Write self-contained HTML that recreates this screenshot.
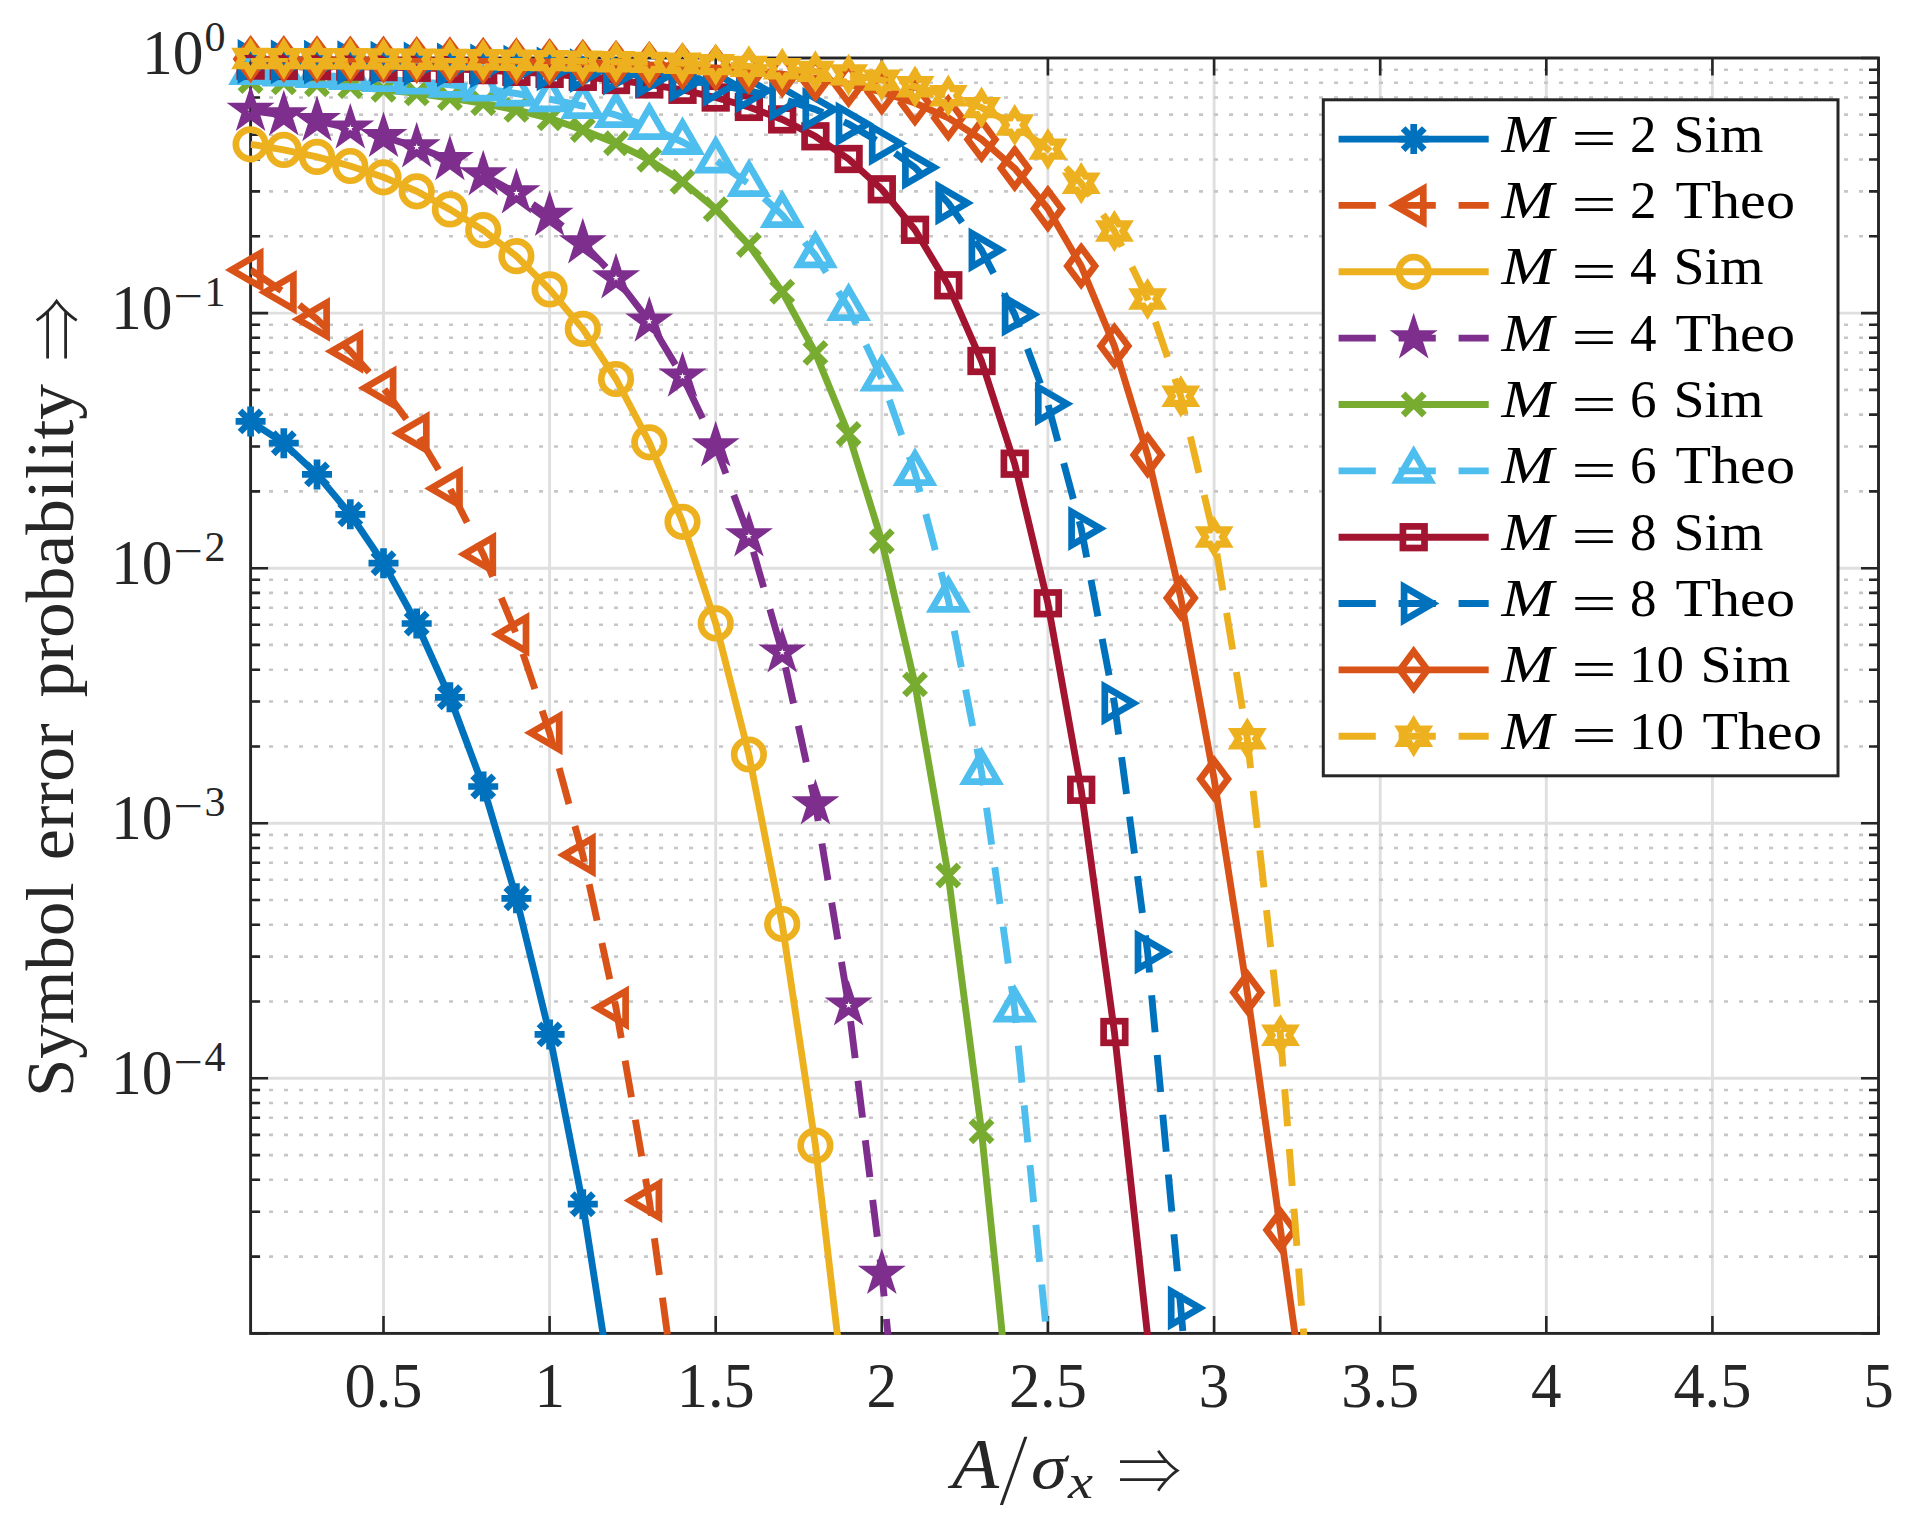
<!DOCTYPE html>
<html><head><meta charset="utf-8"><title>Symbol error probability</title><style>html,body{margin:0;padding:0;background:#fff}svg{display:block}</style></head><body>
<svg width="1925" height="1525" viewBox="0 0 1925 1525">
<rect width="1925" height="1525" fill="#fff"/>
<defs><clipPath id="ax"><rect x="250.6" y="58.0" width="1627.9" height="1276.9"/></clipPath></defs>
<g stroke="#dfdfdf" stroke-width="2.9" fill="none">
<path d="M383.5,58.0V1333.4"/>
<path d="M549.6,58.0V1333.4"/>
<path d="M715.7,58.0V1333.4"/>
<path d="M881.8,58.0V1333.4"/>
<path d="M1047.9,58.0V1333.4"/>
<path d="M1214.1,58.0V1333.4"/>
<path d="M1380.2,58.0V1333.4"/>
<path d="M1546.3,58.0V1333.4"/>
<path d="M1712.4,58.0V1333.4"/>
<path d="M250.6,313.1H1878.5"/>
<path d="M250.6,568.2H1878.5"/>
<path d="M250.6,823.2H1878.5"/>
<path d="M250.6,1078.3H1878.5"/>
</g>
<g stroke="#c6c6c6" stroke-width="2.6" fill="none" stroke-dasharray="4 11">
<path d="M254.05,236.3H1878.5"/>
<path d="M254.05,191.4H1878.5"/>
<path d="M254.05,159.5H1878.5"/>
<path d="M254.05,134.8H1878.5"/>
<path d="M254.05,114.6H1878.5"/>
<path d="M254.05,97.5H1878.5"/>
<path d="M254.05,82.7H1878.5"/>
<path d="M254.05,69.7H1878.5"/>
<path d="M254.05,491.4H1878.5"/>
<path d="M254.05,446.5H1878.5"/>
<path d="M254.05,414.6H1878.5"/>
<path d="M254.05,389.9H1878.5"/>
<path d="M254.05,369.7H1878.5"/>
<path d="M254.05,352.6H1878.5"/>
<path d="M254.05,337.8H1878.5"/>
<path d="M254.05,324.8H1878.5"/>
<path d="M254.05,746.5H1878.5"/>
<path d="M254.05,701.5H1878.5"/>
<path d="M254.05,669.7H1878.5"/>
<path d="M254.05,644.9H1878.5"/>
<path d="M254.05,624.7H1878.5"/>
<path d="M254.05,607.7H1878.5"/>
<path d="M254.05,592.9H1878.5"/>
<path d="M254.05,579.8H1878.5"/>
<path d="M254.05,1001.5H1878.5"/>
<path d="M254.05,956.6H1878.5"/>
<path d="M254.05,924.7H1878.5"/>
<path d="M254.05,900.0H1878.5"/>
<path d="M254.05,879.8H1878.5"/>
<path d="M254.05,862.8H1878.5"/>
<path d="M254.05,848.0H1878.5"/>
<path d="M254.05,834.9H1878.5"/>
<path d="M254.05,1256.6H1878.5"/>
<path d="M254.05,1211.7H1878.5"/>
<path d="M254.05,1179.8H1878.5"/>
<path d="M254.05,1155.1H1878.5"/>
<path d="M254.05,1134.9H1878.5"/>
<path d="M254.05,1117.8H1878.5"/>
<path d="M254.05,1103.0H1878.5"/>
<path d="M254.05,1090.0H1878.5"/>
</g>
<rect x="250.6" y="58.0" width="1627.9" height="1275.4" stroke="#262626" stroke-width="2.9" fill="none"/>
<g stroke="#262626" stroke-width="2.6" fill="none">
<path d="M383.5,1333.4v-17.5M383.5,58.0v17.5"/>
<path d="M549.6,1333.4v-17.5M549.6,58.0v17.5"/>
<path d="M715.7,1333.4v-17.5M715.7,58.0v17.5"/>
<path d="M881.8,1333.4v-17.5M881.8,58.0v17.5"/>
<path d="M1047.9,1333.4v-17.5M1047.9,58.0v17.5"/>
<path d="M1214.1,1333.4v-17.5M1214.1,58.0v17.5"/>
<path d="M1380.2,1333.4v-17.5M1380.2,58.0v17.5"/>
<path d="M1546.3,1333.4v-17.5M1546.3,58.0v17.5"/>
<path d="M1712.4,1333.4v-17.5M1712.4,58.0v17.5"/>
<path d="M1878.5,1333.4v-17.5M1878.5,58.0v17.5"/>
<path d="M250.6,58.0h17.5M1878.5,58.0h-17.5"/>
<path d="M250.6,236.3h9.5M1878.5,236.3h-9.5"/>
<path d="M250.6,191.4h9.5M1878.5,191.4h-9.5"/>
<path d="M250.6,159.5h9.5M1878.5,159.5h-9.5"/>
<path d="M250.6,134.8h9.5M1878.5,134.8h-9.5"/>
<path d="M250.6,114.6h9.5M1878.5,114.6h-9.5"/>
<path d="M250.6,97.5h9.5M1878.5,97.5h-9.5"/>
<path d="M250.6,82.7h9.5M1878.5,82.7h-9.5"/>
<path d="M250.6,69.7h9.5M1878.5,69.7h-9.5"/>
<path d="M250.6,313.1h17.5M1878.5,313.1h-17.5"/>
<path d="M250.6,491.4h9.5M1878.5,491.4h-9.5"/>
<path d="M250.6,446.5h9.5M1878.5,446.5h-9.5"/>
<path d="M250.6,414.6h9.5M1878.5,414.6h-9.5"/>
<path d="M250.6,389.9h9.5M1878.5,389.9h-9.5"/>
<path d="M250.6,369.7h9.5M1878.5,369.7h-9.5"/>
<path d="M250.6,352.6h9.5M1878.5,352.6h-9.5"/>
<path d="M250.6,337.8h9.5M1878.5,337.8h-9.5"/>
<path d="M250.6,324.8h9.5M1878.5,324.8h-9.5"/>
<path d="M250.6,568.2h17.5M1878.5,568.2h-17.5"/>
<path d="M250.6,746.5h9.5M1878.5,746.5h-9.5"/>
<path d="M250.6,701.5h9.5M1878.5,701.5h-9.5"/>
<path d="M250.6,669.7h9.5M1878.5,669.7h-9.5"/>
<path d="M250.6,644.9h9.5M1878.5,644.9h-9.5"/>
<path d="M250.6,624.7h9.5M1878.5,624.7h-9.5"/>
<path d="M250.6,607.7h9.5M1878.5,607.7h-9.5"/>
<path d="M250.6,592.9h9.5M1878.5,592.9h-9.5"/>
<path d="M250.6,579.8h9.5M1878.5,579.8h-9.5"/>
<path d="M250.6,823.2h17.5M1878.5,823.2h-17.5"/>
<path d="M250.6,1001.5h9.5M1878.5,1001.5h-9.5"/>
<path d="M250.6,956.6h9.5M1878.5,956.6h-9.5"/>
<path d="M250.6,924.7h9.5M1878.5,924.7h-9.5"/>
<path d="M250.6,900.0h9.5M1878.5,900.0h-9.5"/>
<path d="M250.6,879.8h9.5M1878.5,879.8h-9.5"/>
<path d="M250.6,862.8h9.5M1878.5,862.8h-9.5"/>
<path d="M250.6,848.0h9.5M1878.5,848.0h-9.5"/>
<path d="M250.6,834.9h9.5M1878.5,834.9h-9.5"/>
<path d="M250.6,1078.3h17.5M1878.5,1078.3h-17.5"/>
<path d="M250.6,1256.6h9.5M1878.5,1256.6h-9.5"/>
<path d="M250.6,1211.7h9.5M1878.5,1211.7h-9.5"/>
<path d="M250.6,1179.8h9.5M1878.5,1179.8h-9.5"/>
<path d="M250.6,1155.1h9.5M1878.5,1155.1h-9.5"/>
<path d="M250.6,1134.9h9.5M1878.5,1134.9h-9.5"/>
<path d="M250.6,1117.8h9.5M1878.5,1117.8h-9.5"/>
<path d="M250.6,1103.0h9.5M1878.5,1103.0h-9.5"/>
<path d="M250.6,1090.0h9.5M1878.5,1090.0h-9.5"/>
<path d="M250.6,1333.4h17.5M1878.5,1333.4h-17.5"/>
</g>
<path clip-path="url(#ax)" d="M250.6,421.4L283.8,443.2L317.0,474.4L350.3,514.3L383.5,563.2L416.7,623.5L449.9,697.3L483.2,786.5L516.4,898.3L549.6,1034.4L582.8,1204.2L616.0,1417.0" stroke="#0072BD" stroke-width="6.9" fill="none" stroke-linejoin="round"/>
<path transform="translate(250.6,421.4)" stroke="#0072BD" stroke-width="6.7" fill="none" d="M-15,0H15M0,-15V15M-10.6,-10.6L10.6,10.6M-10.6,10.6L10.6,-10.6"/>
<path transform="translate(283.8,443.2)" stroke="#0072BD" stroke-width="6.7" fill="none" d="M-15,0H15M0,-15V15M-10.6,-10.6L10.6,10.6M-10.6,10.6L10.6,-10.6"/>
<path transform="translate(317.0,474.4)" stroke="#0072BD" stroke-width="6.7" fill="none" d="M-15,0H15M0,-15V15M-10.6,-10.6L10.6,10.6M-10.6,10.6L10.6,-10.6"/>
<path transform="translate(350.3,514.3)" stroke="#0072BD" stroke-width="6.7" fill="none" d="M-15,0H15M0,-15V15M-10.6,-10.6L10.6,10.6M-10.6,10.6L10.6,-10.6"/>
<path transform="translate(383.5,563.2)" stroke="#0072BD" stroke-width="6.7" fill="none" d="M-15,0H15M0,-15V15M-10.6,-10.6L10.6,10.6M-10.6,10.6L10.6,-10.6"/>
<path transform="translate(416.7,623.5)" stroke="#0072BD" stroke-width="6.7" fill="none" d="M-15,0H15M0,-15V15M-10.6,-10.6L10.6,10.6M-10.6,10.6L10.6,-10.6"/>
<path transform="translate(449.9,697.3)" stroke="#0072BD" stroke-width="6.7" fill="none" d="M-15,0H15M0,-15V15M-10.6,-10.6L10.6,10.6M-10.6,10.6L10.6,-10.6"/>
<path transform="translate(483.2,786.5)" stroke="#0072BD" stroke-width="6.7" fill="none" d="M-15,0H15M0,-15V15M-10.6,-10.6L10.6,10.6M-10.6,10.6L10.6,-10.6"/>
<path transform="translate(516.4,898.3)" stroke="#0072BD" stroke-width="6.7" fill="none" d="M-15,0H15M0,-15V15M-10.6,-10.6L10.6,10.6M-10.6,10.6L10.6,-10.6"/>
<path transform="translate(549.6,1034.4)" stroke="#0072BD" stroke-width="6.7" fill="none" d="M-15,0H15M0,-15V15M-10.6,-10.6L10.6,10.6M-10.6,10.6L10.6,-10.6"/>
<path transform="translate(582.8,1204.2)" stroke="#0072BD" stroke-width="6.7" fill="none" d="M-15,0H15M0,-15V15M-10.6,-10.6L10.6,10.6M-10.6,10.6L10.6,-10.6"/>
<path clip-path="url(#ax)" d="M250.6,269.9L283.8,292.3L317.0,319.3L350.3,351.3L383.5,388.0L416.7,433.3L449.9,488.5L483.2,554.2L516.4,634.3L549.6,732.8L582.8,855.0L616.0,1007.8L649.3,1200.5L682.5,1446.0" stroke="#D95319" stroke-width="6.9" fill="none" stroke-linejoin="round" stroke-dasharray="37.2 22.8"/>
<path transform="translate(250.6,269.9)" stroke="#D95319" stroke-width="6.7" fill="none" d="M-19,0L9.6,-16.6L9.6,16.6Z"/>
<path transform="translate(283.8,292.3)" stroke="#D95319" stroke-width="6.7" fill="none" d="M-19,0L9.6,-16.6L9.6,16.6Z"/>
<path transform="translate(317.0,319.3)" stroke="#D95319" stroke-width="6.7" fill="none" d="M-19,0L9.6,-16.6L9.6,16.6Z"/>
<path transform="translate(350.3,351.3)" stroke="#D95319" stroke-width="6.7" fill="none" d="M-19,0L9.6,-16.6L9.6,16.6Z"/>
<path transform="translate(383.5,388.0)" stroke="#D95319" stroke-width="6.7" fill="none" d="M-19,0L9.6,-16.6L9.6,16.6Z"/>
<path transform="translate(416.7,433.3)" stroke="#D95319" stroke-width="6.7" fill="none" d="M-19,0L9.6,-16.6L9.6,16.6Z"/>
<path transform="translate(449.9,488.5)" stroke="#D95319" stroke-width="6.7" fill="none" d="M-19,0L9.6,-16.6L9.6,16.6Z"/>
<path transform="translate(483.2,554.2)" stroke="#D95319" stroke-width="6.7" fill="none" d="M-19,0L9.6,-16.6L9.6,16.6Z"/>
<path transform="translate(516.4,634.3)" stroke="#D95319" stroke-width="6.7" fill="none" d="M-19,0L9.6,-16.6L9.6,16.6Z"/>
<path transform="translate(549.6,732.8)" stroke="#D95319" stroke-width="6.7" fill="none" d="M-19,0L9.6,-16.6L9.6,16.6Z"/>
<path transform="translate(582.8,855.0)" stroke="#D95319" stroke-width="6.7" fill="none" d="M-19,0L9.6,-16.6L9.6,16.6Z"/>
<path transform="translate(616.0,1007.8)" stroke="#D95319" stroke-width="6.7" fill="none" d="M-19,0L9.6,-16.6L9.6,16.6Z"/>
<path transform="translate(649.3,1200.5)" stroke="#D95319" stroke-width="6.7" fill="none" d="M-19,0L9.6,-16.6L9.6,16.6Z"/>
<path clip-path="url(#ax)" d="M250.6,144.3L283.8,149.9L317.0,156.9L350.3,166.0L383.5,177.3L416.7,191.3L449.9,209.4L483.2,230.1L516.4,256.1L549.6,289.4L582.8,328.9L616.0,379.0L649.3,442.3L682.5,521.8L715.7,623.4L748.9,754.5L782.2,924.0L815.4,1145.6L848.6,1431.0" stroke="#EDB120" stroke-width="6.9" fill="none" stroke-linejoin="round"/>
<circle transform="translate(250.6,144.3)" stroke="#EDB120" stroke-width="6.7" fill="none" r="14.75"/>
<circle transform="translate(283.8,149.9)" stroke="#EDB120" stroke-width="6.7" fill="none" r="14.75"/>
<circle transform="translate(317.0,156.9)" stroke="#EDB120" stroke-width="6.7" fill="none" r="14.75"/>
<circle transform="translate(350.3,166.0)" stroke="#EDB120" stroke-width="6.7" fill="none" r="14.75"/>
<circle transform="translate(383.5,177.3)" stroke="#EDB120" stroke-width="6.7" fill="none" r="14.75"/>
<circle transform="translate(416.7,191.3)" stroke="#EDB120" stroke-width="6.7" fill="none" r="14.75"/>
<circle transform="translate(449.9,209.4)" stroke="#EDB120" stroke-width="6.7" fill="none" r="14.75"/>
<circle transform="translate(483.2,230.1)" stroke="#EDB120" stroke-width="6.7" fill="none" r="14.75"/>
<circle transform="translate(516.4,256.1)" stroke="#EDB120" stroke-width="6.7" fill="none" r="14.75"/>
<circle transform="translate(549.6,289.4)" stroke="#EDB120" stroke-width="6.7" fill="none" r="14.75"/>
<circle transform="translate(582.8,328.9)" stroke="#EDB120" stroke-width="6.7" fill="none" r="14.75"/>
<circle transform="translate(616.0,379.0)" stroke="#EDB120" stroke-width="6.7" fill="none" r="14.75"/>
<circle transform="translate(649.3,442.3)" stroke="#EDB120" stroke-width="6.7" fill="none" r="14.75"/>
<circle transform="translate(682.5,521.8)" stroke="#EDB120" stroke-width="6.7" fill="none" r="14.75"/>
<circle transform="translate(715.7,623.4)" stroke="#EDB120" stroke-width="6.7" fill="none" r="14.75"/>
<circle transform="translate(748.9,754.5)" stroke="#EDB120" stroke-width="6.7" fill="none" r="14.75"/>
<circle transform="translate(782.2,924.0)" stroke="#EDB120" stroke-width="6.7" fill="none" r="14.75"/>
<circle transform="translate(815.4,1145.6)" stroke="#EDB120" stroke-width="6.7" fill="none" r="14.75"/>
<path clip-path="url(#ax)" d="M250.6,110.5L283.8,115.0L317.0,120.8L350.3,128.2L383.5,136.7L416.7,147.1L449.9,159.9L483.2,175.0L516.4,193.1L549.6,215.6L582.8,243.0L616.0,278.0L649.3,321.3L682.5,376.4L715.7,446.0L748.9,536.0L782.2,652.2L815.4,804.0L848.6,1005.2L881.8,1273.5L915.0,1603.0" stroke="#7E2F8E" stroke-width="6.9" fill="none" stroke-linejoin="round" stroke-dasharray="37.2 22.8"/>
<path transform="translate(250.6,110.5)" stroke="#7E2F8E" stroke-width="6.7" fill="none" d="M0.00,-14.40L3.23,-4.45L13.70,-4.45L5.23,1.70L8.46,11.65L0.00,5.50L-8.46,11.65L-5.23,1.70L-13.70,-4.45L-3.23,-4.45Z"/>
<path transform="translate(283.8,115.0)" stroke="#7E2F8E" stroke-width="6.7" fill="none" d="M0.00,-14.40L3.23,-4.45L13.70,-4.45L5.23,1.70L8.46,11.65L0.00,5.50L-8.46,11.65L-5.23,1.70L-13.70,-4.45L-3.23,-4.45Z"/>
<path transform="translate(317.0,120.8)" stroke="#7E2F8E" stroke-width="6.7" fill="none" d="M0.00,-14.40L3.23,-4.45L13.70,-4.45L5.23,1.70L8.46,11.65L0.00,5.50L-8.46,11.65L-5.23,1.70L-13.70,-4.45L-3.23,-4.45Z"/>
<path transform="translate(350.3,128.2)" stroke="#7E2F8E" stroke-width="6.7" fill="none" d="M0.00,-14.40L3.23,-4.45L13.70,-4.45L5.23,1.70L8.46,11.65L0.00,5.50L-8.46,11.65L-5.23,1.70L-13.70,-4.45L-3.23,-4.45Z"/>
<path transform="translate(383.5,136.7)" stroke="#7E2F8E" stroke-width="6.7" fill="none" d="M0.00,-14.40L3.23,-4.45L13.70,-4.45L5.23,1.70L8.46,11.65L0.00,5.50L-8.46,11.65L-5.23,1.70L-13.70,-4.45L-3.23,-4.45Z"/>
<path transform="translate(416.7,147.1)" stroke="#7E2F8E" stroke-width="6.7" fill="none" d="M0.00,-14.40L3.23,-4.45L13.70,-4.45L5.23,1.70L8.46,11.65L0.00,5.50L-8.46,11.65L-5.23,1.70L-13.70,-4.45L-3.23,-4.45Z"/>
<path transform="translate(449.9,159.9)" stroke="#7E2F8E" stroke-width="6.7" fill="none" d="M0.00,-14.40L3.23,-4.45L13.70,-4.45L5.23,1.70L8.46,11.65L0.00,5.50L-8.46,11.65L-5.23,1.70L-13.70,-4.45L-3.23,-4.45Z"/>
<path transform="translate(483.2,175.0)" stroke="#7E2F8E" stroke-width="6.7" fill="none" d="M0.00,-14.40L3.23,-4.45L13.70,-4.45L5.23,1.70L8.46,11.65L0.00,5.50L-8.46,11.65L-5.23,1.70L-13.70,-4.45L-3.23,-4.45Z"/>
<path transform="translate(516.4,193.1)" stroke="#7E2F8E" stroke-width="6.7" fill="none" d="M0.00,-14.40L3.23,-4.45L13.70,-4.45L5.23,1.70L8.46,11.65L0.00,5.50L-8.46,11.65L-5.23,1.70L-13.70,-4.45L-3.23,-4.45Z"/>
<path transform="translate(549.6,215.6)" stroke="#7E2F8E" stroke-width="6.7" fill="none" d="M0.00,-14.40L3.23,-4.45L13.70,-4.45L5.23,1.70L8.46,11.65L0.00,5.50L-8.46,11.65L-5.23,1.70L-13.70,-4.45L-3.23,-4.45Z"/>
<path transform="translate(582.8,243.0)" stroke="#7E2F8E" stroke-width="6.7" fill="none" d="M0.00,-14.40L3.23,-4.45L13.70,-4.45L5.23,1.70L8.46,11.65L0.00,5.50L-8.46,11.65L-5.23,1.70L-13.70,-4.45L-3.23,-4.45Z"/>
<path transform="translate(616.0,278.0)" stroke="#7E2F8E" stroke-width="6.7" fill="none" d="M0.00,-14.40L3.23,-4.45L13.70,-4.45L5.23,1.70L8.46,11.65L0.00,5.50L-8.46,11.65L-5.23,1.70L-13.70,-4.45L-3.23,-4.45Z"/>
<path transform="translate(649.3,321.3)" stroke="#7E2F8E" stroke-width="6.7" fill="none" d="M0.00,-14.40L3.23,-4.45L13.70,-4.45L5.23,1.70L8.46,11.65L0.00,5.50L-8.46,11.65L-5.23,1.70L-13.70,-4.45L-3.23,-4.45Z"/>
<path transform="translate(682.5,376.4)" stroke="#7E2F8E" stroke-width="6.7" fill="none" d="M0.00,-14.40L3.23,-4.45L13.70,-4.45L5.23,1.70L8.46,11.65L0.00,5.50L-8.46,11.65L-5.23,1.70L-13.70,-4.45L-3.23,-4.45Z"/>
<path transform="translate(715.7,446.0)" stroke="#7E2F8E" stroke-width="6.7" fill="none" d="M0.00,-14.40L3.23,-4.45L13.70,-4.45L5.23,1.70L8.46,11.65L0.00,5.50L-8.46,11.65L-5.23,1.70L-13.70,-4.45L-3.23,-4.45Z"/>
<path transform="translate(748.9,536.0)" stroke="#7E2F8E" stroke-width="6.7" fill="none" d="M0.00,-14.40L3.23,-4.45L13.70,-4.45L5.23,1.70L8.46,11.65L0.00,5.50L-8.46,11.65L-5.23,1.70L-13.70,-4.45L-3.23,-4.45Z"/>
<path transform="translate(782.2,652.2)" stroke="#7E2F8E" stroke-width="6.7" fill="none" d="M0.00,-14.40L3.23,-4.45L13.70,-4.45L5.23,1.70L8.46,11.65L0.00,5.50L-8.46,11.65L-5.23,1.70L-13.70,-4.45L-3.23,-4.45Z"/>
<path transform="translate(815.4,804.0)" stroke="#7E2F8E" stroke-width="6.7" fill="none" d="M0.00,-14.40L3.23,-4.45L13.70,-4.45L5.23,1.70L8.46,11.65L0.00,5.50L-8.46,11.65L-5.23,1.70L-13.70,-4.45L-3.23,-4.45Z"/>
<path transform="translate(848.6,1005.2)" stroke="#7E2F8E" stroke-width="6.7" fill="none" d="M0.00,-14.40L3.23,-4.45L13.70,-4.45L5.23,1.70L8.46,11.65L0.00,5.50L-8.46,11.65L-5.23,1.70L-13.70,-4.45L-3.23,-4.45Z"/>
<path transform="translate(881.8,1273.5)" stroke="#7E2F8E" stroke-width="6.7" fill="none" d="M0.00,-14.40L3.23,-4.45L13.70,-4.45L5.23,1.70L8.46,11.65L0.00,5.50L-8.46,11.65L-5.23,1.70L-13.70,-4.45L-3.23,-4.45Z"/>
<path clip-path="url(#ax)" d="M250.6,81.0L283.8,82.4L317.0,84.2L350.3,86.3L383.5,89.8L416.7,93.4L449.9,98.1L483.2,103.3L516.4,109.9L549.6,118.3L582.8,130.0L616.0,143.3L649.3,159.8L682.5,181.7L715.7,209.2L748.9,245.0L782.2,291.7L815.4,352.9L848.6,434.0L881.8,541.2L915.0,684.4L948.3,875.5L981.5,1131.2L1014.7,1456.0" stroke="#77AC30" stroke-width="6.9" fill="none" stroke-linejoin="round"/>
<path transform="translate(250.6,81.0)" stroke="#77AC30" stroke-width="6.7" fill="none" d="M-10.6,-10.6L10.6,10.6M-10.6,10.6L10.6,-10.6"/>
<path transform="translate(283.8,82.4)" stroke="#77AC30" stroke-width="6.7" fill="none" d="M-10.6,-10.6L10.6,10.6M-10.6,10.6L10.6,-10.6"/>
<path transform="translate(317.0,84.2)" stroke="#77AC30" stroke-width="6.7" fill="none" d="M-10.6,-10.6L10.6,10.6M-10.6,10.6L10.6,-10.6"/>
<path transform="translate(350.3,86.3)" stroke="#77AC30" stroke-width="6.7" fill="none" d="M-10.6,-10.6L10.6,10.6M-10.6,10.6L10.6,-10.6"/>
<path transform="translate(383.5,89.8)" stroke="#77AC30" stroke-width="6.7" fill="none" d="M-10.6,-10.6L10.6,10.6M-10.6,10.6L10.6,-10.6"/>
<path transform="translate(416.7,93.4)" stroke="#77AC30" stroke-width="6.7" fill="none" d="M-10.6,-10.6L10.6,10.6M-10.6,10.6L10.6,-10.6"/>
<path transform="translate(449.9,98.1)" stroke="#77AC30" stroke-width="6.7" fill="none" d="M-10.6,-10.6L10.6,10.6M-10.6,10.6L10.6,-10.6"/>
<path transform="translate(483.2,103.3)" stroke="#77AC30" stroke-width="6.7" fill="none" d="M-10.6,-10.6L10.6,10.6M-10.6,10.6L10.6,-10.6"/>
<path transform="translate(516.4,109.9)" stroke="#77AC30" stroke-width="6.7" fill="none" d="M-10.6,-10.6L10.6,10.6M-10.6,10.6L10.6,-10.6"/>
<path transform="translate(549.6,118.3)" stroke="#77AC30" stroke-width="6.7" fill="none" d="M-10.6,-10.6L10.6,10.6M-10.6,10.6L10.6,-10.6"/>
<path transform="translate(582.8,130.0)" stroke="#77AC30" stroke-width="6.7" fill="none" d="M-10.6,-10.6L10.6,10.6M-10.6,10.6L10.6,-10.6"/>
<path transform="translate(616.0,143.3)" stroke="#77AC30" stroke-width="6.7" fill="none" d="M-10.6,-10.6L10.6,10.6M-10.6,10.6L10.6,-10.6"/>
<path transform="translate(649.3,159.8)" stroke="#77AC30" stroke-width="6.7" fill="none" d="M-10.6,-10.6L10.6,10.6M-10.6,10.6L10.6,-10.6"/>
<path transform="translate(682.5,181.7)" stroke="#77AC30" stroke-width="6.7" fill="none" d="M-10.6,-10.6L10.6,10.6M-10.6,10.6L10.6,-10.6"/>
<path transform="translate(715.7,209.2)" stroke="#77AC30" stroke-width="6.7" fill="none" d="M-10.6,-10.6L10.6,10.6M-10.6,10.6L10.6,-10.6"/>
<path transform="translate(748.9,245.0)" stroke="#77AC30" stroke-width="6.7" fill="none" d="M-10.6,-10.6L10.6,10.6M-10.6,10.6L10.6,-10.6"/>
<path transform="translate(782.2,291.7)" stroke="#77AC30" stroke-width="6.7" fill="none" d="M-10.6,-10.6L10.6,10.6M-10.6,10.6L10.6,-10.6"/>
<path transform="translate(815.4,352.9)" stroke="#77AC30" stroke-width="6.7" fill="none" d="M-10.6,-10.6L10.6,10.6M-10.6,10.6L10.6,-10.6"/>
<path transform="translate(848.6,434.0)" stroke="#77AC30" stroke-width="6.7" fill="none" d="M-10.6,-10.6L10.6,10.6M-10.6,10.6L10.6,-10.6"/>
<path transform="translate(881.8,541.2)" stroke="#77AC30" stroke-width="6.7" fill="none" d="M-10.6,-10.6L10.6,10.6M-10.6,10.6L10.6,-10.6"/>
<path transform="translate(915.0,684.4)" stroke="#77AC30" stroke-width="6.7" fill="none" d="M-10.6,-10.6L10.6,10.6M-10.6,10.6L10.6,-10.6"/>
<path transform="translate(948.3,875.5)" stroke="#77AC30" stroke-width="6.7" fill="none" d="M-10.6,-10.6L10.6,10.6M-10.6,10.6L10.6,-10.6"/>
<path transform="translate(981.5,1131.2)" stroke="#77AC30" stroke-width="6.7" fill="none" d="M-10.6,-10.6L10.6,10.6M-10.6,10.6L10.6,-10.6"/>
<path clip-path="url(#ax)" d="M250.6,72.0L283.8,73.5L317.0,75.1L350.3,77.0L383.5,79.1L416.7,81.5L449.9,84.7L483.2,88.6L516.4,93.5L549.6,99.2L582.8,106.0L616.0,115.0L649.3,127.0L682.5,142.0L715.7,160.5L748.9,184.0L782.2,215.0L815.4,255.2L848.6,308.0L881.8,378.6L915.0,473.0L948.3,599.8L981.5,772.0L1014.7,1009.6L1047.9,1347.0" stroke="#4DBEEE" stroke-width="6.9" fill="none" stroke-linejoin="round" stroke-dasharray="37.2 22.8"/>
<path transform="translate(250.6,72.0)" stroke="#4DBEEE" stroke-width="6.7" fill="none" d="M0,-19L16.6,9.6L-16.6,9.6Z"/>
<path transform="translate(283.8,73.5)" stroke="#4DBEEE" stroke-width="6.7" fill="none" d="M0,-19L16.6,9.6L-16.6,9.6Z"/>
<path transform="translate(317.0,75.1)" stroke="#4DBEEE" stroke-width="6.7" fill="none" d="M0,-19L16.6,9.6L-16.6,9.6Z"/>
<path transform="translate(350.3,77.0)" stroke="#4DBEEE" stroke-width="6.7" fill="none" d="M0,-19L16.6,9.6L-16.6,9.6Z"/>
<path transform="translate(383.5,79.1)" stroke="#4DBEEE" stroke-width="6.7" fill="none" d="M0,-19L16.6,9.6L-16.6,9.6Z"/>
<path transform="translate(416.7,81.5)" stroke="#4DBEEE" stroke-width="6.7" fill="none" d="M0,-19L16.6,9.6L-16.6,9.6Z"/>
<path transform="translate(449.9,84.7)" stroke="#4DBEEE" stroke-width="6.7" fill="none" d="M0,-19L16.6,9.6L-16.6,9.6Z"/>
<path transform="translate(483.2,88.6)" stroke="#4DBEEE" stroke-width="6.7" fill="none" d="M0,-19L16.6,9.6L-16.6,9.6Z"/>
<path transform="translate(516.4,93.5)" stroke="#4DBEEE" stroke-width="6.7" fill="none" d="M0,-19L16.6,9.6L-16.6,9.6Z"/>
<path transform="translate(549.6,99.2)" stroke="#4DBEEE" stroke-width="6.7" fill="none" d="M0,-19L16.6,9.6L-16.6,9.6Z"/>
<path transform="translate(582.8,106.0)" stroke="#4DBEEE" stroke-width="6.7" fill="none" d="M0,-19L16.6,9.6L-16.6,9.6Z"/>
<path transform="translate(616.0,115.0)" stroke="#4DBEEE" stroke-width="6.7" fill="none" d="M0,-19L16.6,9.6L-16.6,9.6Z"/>
<path transform="translate(649.3,127.0)" stroke="#4DBEEE" stroke-width="6.7" fill="none" d="M0,-19L16.6,9.6L-16.6,9.6Z"/>
<path transform="translate(682.5,142.0)" stroke="#4DBEEE" stroke-width="6.7" fill="none" d="M0,-19L16.6,9.6L-16.6,9.6Z"/>
<path transform="translate(715.7,160.5)" stroke="#4DBEEE" stroke-width="6.7" fill="none" d="M0,-19L16.6,9.6L-16.6,9.6Z"/>
<path transform="translate(748.9,184.0)" stroke="#4DBEEE" stroke-width="6.7" fill="none" d="M0,-19L16.6,9.6L-16.6,9.6Z"/>
<path transform="translate(782.2,215.0)" stroke="#4DBEEE" stroke-width="6.7" fill="none" d="M0,-19L16.6,9.6L-16.6,9.6Z"/>
<path transform="translate(815.4,255.2)" stroke="#4DBEEE" stroke-width="6.7" fill="none" d="M0,-19L16.6,9.6L-16.6,9.6Z"/>
<path transform="translate(848.6,308.0)" stroke="#4DBEEE" stroke-width="6.7" fill="none" d="M0,-19L16.6,9.6L-16.6,9.6Z"/>
<path transform="translate(881.8,378.6)" stroke="#4DBEEE" stroke-width="6.7" fill="none" d="M0,-19L16.6,9.6L-16.6,9.6Z"/>
<path transform="translate(915.0,473.0)" stroke="#4DBEEE" stroke-width="6.7" fill="none" d="M0,-19L16.6,9.6L-16.6,9.6Z"/>
<path transform="translate(948.3,599.8)" stroke="#4DBEEE" stroke-width="6.7" fill="none" d="M0,-19L16.6,9.6L-16.6,9.6Z"/>
<path transform="translate(981.5,772.0)" stroke="#4DBEEE" stroke-width="6.7" fill="none" d="M0,-19L16.6,9.6L-16.6,9.6Z"/>
<path transform="translate(1014.7,1009.6)" stroke="#4DBEEE" stroke-width="6.7" fill="none" d="M0,-19L16.6,9.6L-16.6,9.6Z"/>
<path clip-path="url(#ax)" d="M250.6,65.6L283.8,65.9L317.0,66.2L350.3,66.6L383.5,67.1L416.7,67.8L449.9,68.8L483.2,70.1L516.4,71.8L549.6,73.9L582.8,76.8L616.0,80.0L649.3,84.4L682.5,89.8L715.7,97.5L748.9,106.9L782.2,119.4L815.4,136.3L848.6,159.0L881.8,189.3L915.0,229.8L948.3,285.3L981.5,361.0L1014.7,463.7L1047.9,603.3L1081.2,789.8L1114.4,1032.0L1147.6,1336.0" stroke="#A2142F" stroke-width="6.9" fill="none" stroke-linejoin="round"/>
<rect transform="translate(250.6,65.6)" stroke="#A2142F" stroke-width="6.7" fill="none" x="-10.8" y="-10.8" width="21.6" height="21.6"/>
<rect transform="translate(283.8,65.9)" stroke="#A2142F" stroke-width="6.7" fill="none" x="-10.8" y="-10.8" width="21.6" height="21.6"/>
<rect transform="translate(317.0,66.2)" stroke="#A2142F" stroke-width="6.7" fill="none" x="-10.8" y="-10.8" width="21.6" height="21.6"/>
<rect transform="translate(350.3,66.6)" stroke="#A2142F" stroke-width="6.7" fill="none" x="-10.8" y="-10.8" width="21.6" height="21.6"/>
<rect transform="translate(383.5,67.1)" stroke="#A2142F" stroke-width="6.7" fill="none" x="-10.8" y="-10.8" width="21.6" height="21.6"/>
<rect transform="translate(416.7,67.8)" stroke="#A2142F" stroke-width="6.7" fill="none" x="-10.8" y="-10.8" width="21.6" height="21.6"/>
<rect transform="translate(449.9,68.8)" stroke="#A2142F" stroke-width="6.7" fill="none" x="-10.8" y="-10.8" width="21.6" height="21.6"/>
<rect transform="translate(483.2,70.1)" stroke="#A2142F" stroke-width="6.7" fill="none" x="-10.8" y="-10.8" width="21.6" height="21.6"/>
<rect transform="translate(516.4,71.8)" stroke="#A2142F" stroke-width="6.7" fill="none" x="-10.8" y="-10.8" width="21.6" height="21.6"/>
<rect transform="translate(549.6,73.9)" stroke="#A2142F" stroke-width="6.7" fill="none" x="-10.8" y="-10.8" width="21.6" height="21.6"/>
<rect transform="translate(582.8,76.8)" stroke="#A2142F" stroke-width="6.7" fill="none" x="-10.8" y="-10.8" width="21.6" height="21.6"/>
<rect transform="translate(616.0,80.0)" stroke="#A2142F" stroke-width="6.7" fill="none" x="-10.8" y="-10.8" width="21.6" height="21.6"/>
<rect transform="translate(649.3,84.4)" stroke="#A2142F" stroke-width="6.7" fill="none" x="-10.8" y="-10.8" width="21.6" height="21.6"/>
<rect transform="translate(682.5,89.8)" stroke="#A2142F" stroke-width="6.7" fill="none" x="-10.8" y="-10.8" width="21.6" height="21.6"/>
<rect transform="translate(715.7,97.5)" stroke="#A2142F" stroke-width="6.7" fill="none" x="-10.8" y="-10.8" width="21.6" height="21.6"/>
<rect transform="translate(748.9,106.9)" stroke="#A2142F" stroke-width="6.7" fill="none" x="-10.8" y="-10.8" width="21.6" height="21.6"/>
<rect transform="translate(782.2,119.4)" stroke="#A2142F" stroke-width="6.7" fill="none" x="-10.8" y="-10.8" width="21.6" height="21.6"/>
<rect transform="translate(815.4,136.3)" stroke="#A2142F" stroke-width="6.7" fill="none" x="-10.8" y="-10.8" width="21.6" height="21.6"/>
<rect transform="translate(848.6,159.0)" stroke="#A2142F" stroke-width="6.7" fill="none" x="-10.8" y="-10.8" width="21.6" height="21.6"/>
<rect transform="translate(881.8,189.3)" stroke="#A2142F" stroke-width="6.7" fill="none" x="-10.8" y="-10.8" width="21.6" height="21.6"/>
<rect transform="translate(915.0,229.8)" stroke="#A2142F" stroke-width="6.7" fill="none" x="-10.8" y="-10.8" width="21.6" height="21.6"/>
<rect transform="translate(948.3,285.3)" stroke="#A2142F" stroke-width="6.7" fill="none" x="-10.8" y="-10.8" width="21.6" height="21.6"/>
<rect transform="translate(981.5,361.0)" stroke="#A2142F" stroke-width="6.7" fill="none" x="-10.8" y="-10.8" width="21.6" height="21.6"/>
<rect transform="translate(1014.7,463.7)" stroke="#A2142F" stroke-width="6.7" fill="none" x="-10.8" y="-10.8" width="21.6" height="21.6"/>
<rect transform="translate(1047.9,603.3)" stroke="#A2142F" stroke-width="6.7" fill="none" x="-10.8" y="-10.8" width="21.6" height="21.6"/>
<rect transform="translate(1081.2,789.8)" stroke="#A2142F" stroke-width="6.7" fill="none" x="-10.8" y="-10.8" width="21.6" height="21.6"/>
<rect transform="translate(1114.4,1032.0)" stroke="#A2142F" stroke-width="6.7" fill="none" x="-10.8" y="-10.8" width="21.6" height="21.6"/>
<path clip-path="url(#ax)" d="M250.6,61.5L283.8,61.8L317.0,62.2L350.3,62.7L383.5,63.2L416.7,63.9L449.9,64.8L483.2,65.9L516.4,67.2L549.6,68.8L582.8,70.6L616.0,73.0L649.3,76.2L682.5,80.0L715.7,84.5L748.9,90.7L782.2,99.0L815.4,109.4L848.6,124.0L881.8,143.6L915.0,167.5L948.3,203.0L981.5,250.0L1014.7,314.4L1047.9,403.8L1081.2,528.5L1114.4,703.2L1147.6,952.0L1180.8,1308.0L1214.1,1690.0" stroke="#0072BD" stroke-width="6.9" fill="none" stroke-linejoin="round" stroke-dasharray="37.2 22.8"/>
<path transform="translate(250.6,61.5)" stroke="#0072BD" stroke-width="6.7" fill="none" d="M19,0L-9.6,-16.6L-9.6,16.6Z"/>
<path transform="translate(283.8,61.8)" stroke="#0072BD" stroke-width="6.7" fill="none" d="M19,0L-9.6,-16.6L-9.6,16.6Z"/>
<path transform="translate(317.0,62.2)" stroke="#0072BD" stroke-width="6.7" fill="none" d="M19,0L-9.6,-16.6L-9.6,16.6Z"/>
<path transform="translate(350.3,62.7)" stroke="#0072BD" stroke-width="6.7" fill="none" d="M19,0L-9.6,-16.6L-9.6,16.6Z"/>
<path transform="translate(383.5,63.2)" stroke="#0072BD" stroke-width="6.7" fill="none" d="M19,0L-9.6,-16.6L-9.6,16.6Z"/>
<path transform="translate(416.7,63.9)" stroke="#0072BD" stroke-width="6.7" fill="none" d="M19,0L-9.6,-16.6L-9.6,16.6Z"/>
<path transform="translate(449.9,64.8)" stroke="#0072BD" stroke-width="6.7" fill="none" d="M19,0L-9.6,-16.6L-9.6,16.6Z"/>
<path transform="translate(483.2,65.9)" stroke="#0072BD" stroke-width="6.7" fill="none" d="M19,0L-9.6,-16.6L-9.6,16.6Z"/>
<path transform="translate(516.4,67.2)" stroke="#0072BD" stroke-width="6.7" fill="none" d="M19,0L-9.6,-16.6L-9.6,16.6Z"/>
<path transform="translate(549.6,68.8)" stroke="#0072BD" stroke-width="6.7" fill="none" d="M19,0L-9.6,-16.6L-9.6,16.6Z"/>
<path transform="translate(582.8,70.6)" stroke="#0072BD" stroke-width="6.7" fill="none" d="M19,0L-9.6,-16.6L-9.6,16.6Z"/>
<path transform="translate(616.0,73.0)" stroke="#0072BD" stroke-width="6.7" fill="none" d="M19,0L-9.6,-16.6L-9.6,16.6Z"/>
<path transform="translate(649.3,76.2)" stroke="#0072BD" stroke-width="6.7" fill="none" d="M19,0L-9.6,-16.6L-9.6,16.6Z"/>
<path transform="translate(682.5,80.0)" stroke="#0072BD" stroke-width="6.7" fill="none" d="M19,0L-9.6,-16.6L-9.6,16.6Z"/>
<path transform="translate(715.7,84.5)" stroke="#0072BD" stroke-width="6.7" fill="none" d="M19,0L-9.6,-16.6L-9.6,16.6Z"/>
<path transform="translate(748.9,90.7)" stroke="#0072BD" stroke-width="6.7" fill="none" d="M19,0L-9.6,-16.6L-9.6,16.6Z"/>
<path transform="translate(782.2,99.0)" stroke="#0072BD" stroke-width="6.7" fill="none" d="M19,0L-9.6,-16.6L-9.6,16.6Z"/>
<path transform="translate(815.4,109.4)" stroke="#0072BD" stroke-width="6.7" fill="none" d="M19,0L-9.6,-16.6L-9.6,16.6Z"/>
<path transform="translate(848.6,124.0)" stroke="#0072BD" stroke-width="6.7" fill="none" d="M19,0L-9.6,-16.6L-9.6,16.6Z"/>
<path transform="translate(881.8,143.6)" stroke="#0072BD" stroke-width="6.7" fill="none" d="M19,0L-9.6,-16.6L-9.6,16.6Z"/>
<path transform="translate(915.0,167.5)" stroke="#0072BD" stroke-width="6.7" fill="none" d="M19,0L-9.6,-16.6L-9.6,16.6Z"/>
<path transform="translate(948.3,203.0)" stroke="#0072BD" stroke-width="6.7" fill="none" d="M19,0L-9.6,-16.6L-9.6,16.6Z"/>
<path transform="translate(981.5,250.0)" stroke="#0072BD" stroke-width="6.7" fill="none" d="M19,0L-9.6,-16.6L-9.6,16.6Z"/>
<path transform="translate(1014.7,314.4)" stroke="#0072BD" stroke-width="6.7" fill="none" d="M19,0L-9.6,-16.6L-9.6,16.6Z"/>
<path transform="translate(1047.9,403.8)" stroke="#0072BD" stroke-width="6.7" fill="none" d="M19,0L-9.6,-16.6L-9.6,16.6Z"/>
<path transform="translate(1081.2,528.5)" stroke="#0072BD" stroke-width="6.7" fill="none" d="M19,0L-9.6,-16.6L-9.6,16.6Z"/>
<path transform="translate(1114.4,703.2)" stroke="#0072BD" stroke-width="6.7" fill="none" d="M19,0L-9.6,-16.6L-9.6,16.6Z"/>
<path transform="translate(1147.6,952.0)" stroke="#0072BD" stroke-width="6.7" fill="none" d="M19,0L-9.6,-16.6L-9.6,16.6Z"/>
<path transform="translate(1180.8,1308.0)" stroke="#0072BD" stroke-width="6.7" fill="none" d="M19,0L-9.6,-16.6L-9.6,16.6Z"/>
<path clip-path="url(#ax)" d="M250.6,59.1L283.8,59.2L317.0,59.3L350.3,59.5L383.5,59.7L416.7,60.0L449.9,60.4L483.2,60.9L516.4,61.4L549.6,62.0L582.8,62.8L616.0,63.8L649.3,64.9L682.5,66.4L715.7,68.0L748.9,70.8L782.2,74.3L815.4,78.4L848.6,84.2L881.8,91.9L915.0,103.0L948.3,117.9L981.5,139.4L1014.7,168.3L1047.9,208.8L1081.2,266.0L1114.4,346.0L1147.6,455.0L1180.8,598.0L1214.1,778.9L1247.3,992.5L1280.5,1230.0L1313.7,1469.0" stroke="#D95319" stroke-width="6.9" fill="none" stroke-linejoin="round"/>
<path transform="translate(250.6,59.1)" stroke="#D95319" stroke-width="6.7" fill="none" d="M0,-18.5L13.8,0L0,18.5L-13.8,0Z"/>
<path transform="translate(283.8,59.2)" stroke="#D95319" stroke-width="6.7" fill="none" d="M0,-18.5L13.8,0L0,18.5L-13.8,0Z"/>
<path transform="translate(317.0,59.3)" stroke="#D95319" stroke-width="6.7" fill="none" d="M0,-18.5L13.8,0L0,18.5L-13.8,0Z"/>
<path transform="translate(350.3,59.5)" stroke="#D95319" stroke-width="6.7" fill="none" d="M0,-18.5L13.8,0L0,18.5L-13.8,0Z"/>
<path transform="translate(383.5,59.7)" stroke="#D95319" stroke-width="6.7" fill="none" d="M0,-18.5L13.8,0L0,18.5L-13.8,0Z"/>
<path transform="translate(416.7,60.0)" stroke="#D95319" stroke-width="6.7" fill="none" d="M0,-18.5L13.8,0L0,18.5L-13.8,0Z"/>
<path transform="translate(449.9,60.4)" stroke="#D95319" stroke-width="6.7" fill="none" d="M0,-18.5L13.8,0L0,18.5L-13.8,0Z"/>
<path transform="translate(483.2,60.9)" stroke="#D95319" stroke-width="6.7" fill="none" d="M0,-18.5L13.8,0L0,18.5L-13.8,0Z"/>
<path transform="translate(516.4,61.4)" stroke="#D95319" stroke-width="6.7" fill="none" d="M0,-18.5L13.8,0L0,18.5L-13.8,0Z"/>
<path transform="translate(549.6,62.0)" stroke="#D95319" stroke-width="6.7" fill="none" d="M0,-18.5L13.8,0L0,18.5L-13.8,0Z"/>
<path transform="translate(582.8,62.8)" stroke="#D95319" stroke-width="6.7" fill="none" d="M0,-18.5L13.8,0L0,18.5L-13.8,0Z"/>
<path transform="translate(616.0,63.8)" stroke="#D95319" stroke-width="6.7" fill="none" d="M0,-18.5L13.8,0L0,18.5L-13.8,0Z"/>
<path transform="translate(649.3,64.9)" stroke="#D95319" stroke-width="6.7" fill="none" d="M0,-18.5L13.8,0L0,18.5L-13.8,0Z"/>
<path transform="translate(682.5,66.4)" stroke="#D95319" stroke-width="6.7" fill="none" d="M0,-18.5L13.8,0L0,18.5L-13.8,0Z"/>
<path transform="translate(715.7,68.0)" stroke="#D95319" stroke-width="6.7" fill="none" d="M0,-18.5L13.8,0L0,18.5L-13.8,0Z"/>
<path transform="translate(748.9,70.8)" stroke="#D95319" stroke-width="6.7" fill="none" d="M0,-18.5L13.8,0L0,18.5L-13.8,0Z"/>
<path transform="translate(782.2,74.3)" stroke="#D95319" stroke-width="6.7" fill="none" d="M0,-18.5L13.8,0L0,18.5L-13.8,0Z"/>
<path transform="translate(815.4,78.4)" stroke="#D95319" stroke-width="6.7" fill="none" d="M0,-18.5L13.8,0L0,18.5L-13.8,0Z"/>
<path transform="translate(848.6,84.2)" stroke="#D95319" stroke-width="6.7" fill="none" d="M0,-18.5L13.8,0L0,18.5L-13.8,0Z"/>
<path transform="translate(881.8,91.9)" stroke="#D95319" stroke-width="6.7" fill="none" d="M0,-18.5L13.8,0L0,18.5L-13.8,0Z"/>
<path transform="translate(915.0,103.0)" stroke="#D95319" stroke-width="6.7" fill="none" d="M0,-18.5L13.8,0L0,18.5L-13.8,0Z"/>
<path transform="translate(948.3,117.9)" stroke="#D95319" stroke-width="6.7" fill="none" d="M0,-18.5L13.8,0L0,18.5L-13.8,0Z"/>
<path transform="translate(981.5,139.4)" stroke="#D95319" stroke-width="6.7" fill="none" d="M0,-18.5L13.8,0L0,18.5L-13.8,0Z"/>
<path transform="translate(1014.7,168.3)" stroke="#D95319" stroke-width="6.7" fill="none" d="M0,-18.5L13.8,0L0,18.5L-13.8,0Z"/>
<path transform="translate(1047.9,208.8)" stroke="#D95319" stroke-width="6.7" fill="none" d="M0,-18.5L13.8,0L0,18.5L-13.8,0Z"/>
<path transform="translate(1081.2,266.0)" stroke="#D95319" stroke-width="6.7" fill="none" d="M0,-18.5L13.8,0L0,18.5L-13.8,0Z"/>
<path transform="translate(1114.4,346.0)" stroke="#D95319" stroke-width="6.7" fill="none" d="M0,-18.5L13.8,0L0,18.5L-13.8,0Z"/>
<path transform="translate(1147.6,455.0)" stroke="#D95319" stroke-width="6.7" fill="none" d="M0,-18.5L13.8,0L0,18.5L-13.8,0Z"/>
<path transform="translate(1180.8,598.0)" stroke="#D95319" stroke-width="6.7" fill="none" d="M0,-18.5L13.8,0L0,18.5L-13.8,0Z"/>
<path transform="translate(1214.1,778.9)" stroke="#D95319" stroke-width="6.7" fill="none" d="M0,-18.5L13.8,0L0,18.5L-13.8,0Z"/>
<path transform="translate(1247.3,992.5)" stroke="#D95319" stroke-width="6.7" fill="none" d="M0,-18.5L13.8,0L0,18.5L-13.8,0Z"/>
<path transform="translate(1280.5,1230.0)" stroke="#D95319" stroke-width="6.7" fill="none" d="M0,-18.5L13.8,0L0,18.5L-13.8,0Z"/>
<path clip-path="url(#ax)" d="M250.6,58.5L283.8,58.6L317.0,58.7L350.3,58.8L383.5,59.0L416.7,59.2L449.9,59.5L483.2,59.8L516.4,60.2L549.6,60.6L582.8,61.1L616.0,61.7L649.3,62.4L682.5,63.3L715.7,64.6L748.9,66.4L782.2,68.8L815.4,71.4L848.6,74.9L881.8,80.1L915.0,86.7L948.3,95.7L981.5,107.6L1014.7,125.0L1047.9,149.1L1081.2,183.2L1114.4,231.0L1147.6,299.0L1180.8,396.3L1214.1,537.0L1247.3,738.7L1280.5,1035.3L1313.7,1463.0" stroke="#EDB120" stroke-width="6.9" fill="none" stroke-linejoin="round" stroke-dasharray="37.2 22.8"/>
<path transform="translate(250.6,58.5)" stroke="#EDB120" stroke-width="7.3" fill="none" d="M0.00,-14.10L4.31,-7.05L12.94,-7.05L8.63,0.00L12.94,7.05L4.31,7.05L0.00,14.10L-4.31,7.05L-12.94,7.05L-8.63,0.00L-12.94,-7.05L-4.31,-7.05Z"/>
<path transform="translate(283.8,58.6)" stroke="#EDB120" stroke-width="7.3" fill="none" d="M0.00,-14.10L4.31,-7.05L12.94,-7.05L8.63,0.00L12.94,7.05L4.31,7.05L0.00,14.10L-4.31,7.05L-12.94,7.05L-8.63,0.00L-12.94,-7.05L-4.31,-7.05Z"/>
<path transform="translate(317.0,58.7)" stroke="#EDB120" stroke-width="7.3" fill="none" d="M0.00,-14.10L4.31,-7.05L12.94,-7.05L8.63,0.00L12.94,7.05L4.31,7.05L0.00,14.10L-4.31,7.05L-12.94,7.05L-8.63,0.00L-12.94,-7.05L-4.31,-7.05Z"/>
<path transform="translate(350.3,58.8)" stroke="#EDB120" stroke-width="7.3" fill="none" d="M0.00,-14.10L4.31,-7.05L12.94,-7.05L8.63,0.00L12.94,7.05L4.31,7.05L0.00,14.10L-4.31,7.05L-12.94,7.05L-8.63,0.00L-12.94,-7.05L-4.31,-7.05Z"/>
<path transform="translate(383.5,59.0)" stroke="#EDB120" stroke-width="7.3" fill="none" d="M0.00,-14.10L4.31,-7.05L12.94,-7.05L8.63,0.00L12.94,7.05L4.31,7.05L0.00,14.10L-4.31,7.05L-12.94,7.05L-8.63,0.00L-12.94,-7.05L-4.31,-7.05Z"/>
<path transform="translate(416.7,59.2)" stroke="#EDB120" stroke-width="7.3" fill="none" d="M0.00,-14.10L4.31,-7.05L12.94,-7.05L8.63,0.00L12.94,7.05L4.31,7.05L0.00,14.10L-4.31,7.05L-12.94,7.05L-8.63,0.00L-12.94,-7.05L-4.31,-7.05Z"/>
<path transform="translate(449.9,59.5)" stroke="#EDB120" stroke-width="7.3" fill="none" d="M0.00,-14.10L4.31,-7.05L12.94,-7.05L8.63,0.00L12.94,7.05L4.31,7.05L0.00,14.10L-4.31,7.05L-12.94,7.05L-8.63,0.00L-12.94,-7.05L-4.31,-7.05Z"/>
<path transform="translate(483.2,59.8)" stroke="#EDB120" stroke-width="7.3" fill="none" d="M0.00,-14.10L4.31,-7.05L12.94,-7.05L8.63,0.00L12.94,7.05L4.31,7.05L0.00,14.10L-4.31,7.05L-12.94,7.05L-8.63,0.00L-12.94,-7.05L-4.31,-7.05Z"/>
<path transform="translate(516.4,60.2)" stroke="#EDB120" stroke-width="7.3" fill="none" d="M0.00,-14.10L4.31,-7.05L12.94,-7.05L8.63,0.00L12.94,7.05L4.31,7.05L0.00,14.10L-4.31,7.05L-12.94,7.05L-8.63,0.00L-12.94,-7.05L-4.31,-7.05Z"/>
<path transform="translate(549.6,60.6)" stroke="#EDB120" stroke-width="7.3" fill="none" d="M0.00,-14.10L4.31,-7.05L12.94,-7.05L8.63,0.00L12.94,7.05L4.31,7.05L0.00,14.10L-4.31,7.05L-12.94,7.05L-8.63,0.00L-12.94,-7.05L-4.31,-7.05Z"/>
<path transform="translate(582.8,61.1)" stroke="#EDB120" stroke-width="7.3" fill="none" d="M0.00,-14.10L4.31,-7.05L12.94,-7.05L8.63,0.00L12.94,7.05L4.31,7.05L0.00,14.10L-4.31,7.05L-12.94,7.05L-8.63,0.00L-12.94,-7.05L-4.31,-7.05Z"/>
<path transform="translate(616.0,61.7)" stroke="#EDB120" stroke-width="7.3" fill="none" d="M0.00,-14.10L4.31,-7.05L12.94,-7.05L8.63,0.00L12.94,7.05L4.31,7.05L0.00,14.10L-4.31,7.05L-12.94,7.05L-8.63,0.00L-12.94,-7.05L-4.31,-7.05Z"/>
<path transform="translate(649.3,62.4)" stroke="#EDB120" stroke-width="7.3" fill="none" d="M0.00,-14.10L4.31,-7.05L12.94,-7.05L8.63,0.00L12.94,7.05L4.31,7.05L0.00,14.10L-4.31,7.05L-12.94,7.05L-8.63,0.00L-12.94,-7.05L-4.31,-7.05Z"/>
<path transform="translate(682.5,63.3)" stroke="#EDB120" stroke-width="7.3" fill="none" d="M0.00,-14.10L4.31,-7.05L12.94,-7.05L8.63,0.00L12.94,7.05L4.31,7.05L0.00,14.10L-4.31,7.05L-12.94,7.05L-8.63,0.00L-12.94,-7.05L-4.31,-7.05Z"/>
<path transform="translate(715.7,64.6)" stroke="#EDB120" stroke-width="7.3" fill="none" d="M0.00,-14.10L4.31,-7.05L12.94,-7.05L8.63,0.00L12.94,7.05L4.31,7.05L0.00,14.10L-4.31,7.05L-12.94,7.05L-8.63,0.00L-12.94,-7.05L-4.31,-7.05Z"/>
<path transform="translate(748.9,66.4)" stroke="#EDB120" stroke-width="7.3" fill="none" d="M0.00,-14.10L4.31,-7.05L12.94,-7.05L8.63,0.00L12.94,7.05L4.31,7.05L0.00,14.10L-4.31,7.05L-12.94,7.05L-8.63,0.00L-12.94,-7.05L-4.31,-7.05Z"/>
<path transform="translate(782.2,68.8)" stroke="#EDB120" stroke-width="7.3" fill="none" d="M0.00,-14.10L4.31,-7.05L12.94,-7.05L8.63,0.00L12.94,7.05L4.31,7.05L0.00,14.10L-4.31,7.05L-12.94,7.05L-8.63,0.00L-12.94,-7.05L-4.31,-7.05Z"/>
<path transform="translate(815.4,71.4)" stroke="#EDB120" stroke-width="7.3" fill="none" d="M0.00,-14.10L4.31,-7.05L12.94,-7.05L8.63,0.00L12.94,7.05L4.31,7.05L0.00,14.10L-4.31,7.05L-12.94,7.05L-8.63,0.00L-12.94,-7.05L-4.31,-7.05Z"/>
<path transform="translate(848.6,74.9)" stroke="#EDB120" stroke-width="7.3" fill="none" d="M0.00,-14.10L4.31,-7.05L12.94,-7.05L8.63,0.00L12.94,7.05L4.31,7.05L0.00,14.10L-4.31,7.05L-12.94,7.05L-8.63,0.00L-12.94,-7.05L-4.31,-7.05Z"/>
<path transform="translate(881.8,80.1)" stroke="#EDB120" stroke-width="7.3" fill="none" d="M0.00,-14.10L4.31,-7.05L12.94,-7.05L8.63,0.00L12.94,7.05L4.31,7.05L0.00,14.10L-4.31,7.05L-12.94,7.05L-8.63,0.00L-12.94,-7.05L-4.31,-7.05Z"/>
<path transform="translate(915.0,86.7)" stroke="#EDB120" stroke-width="7.3" fill="none" d="M0.00,-14.10L4.31,-7.05L12.94,-7.05L8.63,0.00L12.94,7.05L4.31,7.05L0.00,14.10L-4.31,7.05L-12.94,7.05L-8.63,0.00L-12.94,-7.05L-4.31,-7.05Z"/>
<path transform="translate(948.3,95.7)" stroke="#EDB120" stroke-width="7.3" fill="none" d="M0.00,-14.10L4.31,-7.05L12.94,-7.05L8.63,0.00L12.94,7.05L4.31,7.05L0.00,14.10L-4.31,7.05L-12.94,7.05L-8.63,0.00L-12.94,-7.05L-4.31,-7.05Z"/>
<path transform="translate(981.5,107.6)" stroke="#EDB120" stroke-width="7.3" fill="none" d="M0.00,-14.10L4.31,-7.05L12.94,-7.05L8.63,0.00L12.94,7.05L4.31,7.05L0.00,14.10L-4.31,7.05L-12.94,7.05L-8.63,0.00L-12.94,-7.05L-4.31,-7.05Z"/>
<path transform="translate(1014.7,125.0)" stroke="#EDB120" stroke-width="7.3" fill="none" d="M0.00,-14.10L4.31,-7.05L12.94,-7.05L8.63,0.00L12.94,7.05L4.31,7.05L0.00,14.10L-4.31,7.05L-12.94,7.05L-8.63,0.00L-12.94,-7.05L-4.31,-7.05Z"/>
<path transform="translate(1047.9,149.1)" stroke="#EDB120" stroke-width="7.3" fill="none" d="M0.00,-14.10L4.31,-7.05L12.94,-7.05L8.63,0.00L12.94,7.05L4.31,7.05L0.00,14.10L-4.31,7.05L-12.94,7.05L-8.63,0.00L-12.94,-7.05L-4.31,-7.05Z"/>
<path transform="translate(1081.2,183.2)" stroke="#EDB120" stroke-width="7.3" fill="none" d="M0.00,-14.10L4.31,-7.05L12.94,-7.05L8.63,0.00L12.94,7.05L4.31,7.05L0.00,14.10L-4.31,7.05L-12.94,7.05L-8.63,0.00L-12.94,-7.05L-4.31,-7.05Z"/>
<path transform="translate(1114.4,231.0)" stroke="#EDB120" stroke-width="7.3" fill="none" d="M0.00,-14.10L4.31,-7.05L12.94,-7.05L8.63,0.00L12.94,7.05L4.31,7.05L0.00,14.10L-4.31,7.05L-12.94,7.05L-8.63,0.00L-12.94,-7.05L-4.31,-7.05Z"/>
<path transform="translate(1147.6,299.0)" stroke="#EDB120" stroke-width="7.3" fill="none" d="M0.00,-14.10L4.31,-7.05L12.94,-7.05L8.63,0.00L12.94,7.05L4.31,7.05L0.00,14.10L-4.31,7.05L-12.94,7.05L-8.63,0.00L-12.94,-7.05L-4.31,-7.05Z"/>
<path transform="translate(1180.8,396.3)" stroke="#EDB120" stroke-width="7.3" fill="none" d="M0.00,-14.10L4.31,-7.05L12.94,-7.05L8.63,0.00L12.94,7.05L4.31,7.05L0.00,14.10L-4.31,7.05L-12.94,7.05L-8.63,0.00L-12.94,-7.05L-4.31,-7.05Z"/>
<path transform="translate(1214.1,537.0)" stroke="#EDB120" stroke-width="7.3" fill="none" d="M0.00,-14.10L4.31,-7.05L12.94,-7.05L8.63,0.00L12.94,7.05L4.31,7.05L0.00,14.10L-4.31,7.05L-12.94,7.05L-8.63,0.00L-12.94,-7.05L-4.31,-7.05Z"/>
<path transform="translate(1247.3,738.7)" stroke="#EDB120" stroke-width="7.3" fill="none" d="M0.00,-14.10L4.31,-7.05L12.94,-7.05L8.63,0.00L12.94,7.05L4.31,7.05L0.00,14.10L-4.31,7.05L-12.94,7.05L-8.63,0.00L-12.94,-7.05L-4.31,-7.05Z"/>
<path transform="translate(1280.5,1035.3)" stroke="#EDB120" stroke-width="7.3" fill="none" d="M0.00,-14.10L4.31,-7.05L12.94,-7.05L8.63,0.00L12.94,7.05L4.31,7.05L0.00,14.10L-4.31,7.05L-12.94,7.05L-8.63,0.00L-12.94,-7.05L-4.31,-7.05Z"/>
<rect x="1323.3" y="99.8" width="514.7" height="676.0" fill="#fff" stroke="#262626" stroke-width="3"/>
<path d="M1338.6,139.1H1488.7" stroke="#0072BD" stroke-width="6.9" fill="none"/>
<path transform="translate(1413.7,139.1)" stroke="#0072BD" stroke-width="6.7" fill="none" d="M-15,0H15M0,-15V15M-10.6,-10.6L10.6,10.6M-10.6,10.6L10.6,-10.6"/>
<text x="1501.5" y="151.5" font-size="52.5" fill="#000" text-anchor="start" textLength="52.5" lengthAdjust="spacingAndGlyphs" style="font-family:'Liberation Serif','DejaVu Serif',serif;font-style:italic">M</text>
<text x="1571.2" y="156.1" font-size="52.5" fill="#000" text-anchor="start" textLength="45.5" lengthAdjust="spacingAndGlyphs" style="font-family:'Liberation Serif','DejaVu Serif',serif">=</text>
<text x="1630.0" y="151.5" font-size="53" fill="#000" text-anchor="start" textLength="26.5" lengthAdjust="spacingAndGlyphs" style="font-family:'Liberation Serif','DejaVu Serif',serif">2</text>
<text x="1673.5" y="151.5" font-size="52.5" fill="#000" text-anchor="start" textLength="90.0" lengthAdjust="spacingAndGlyphs" style="font-family:'Liberation Serif','DejaVu Serif',serif">Sim</text>
<path d="M1338.6,205.4H1488.7" stroke="#D95319" stroke-width="6.9" fill="none" stroke-dasharray="37.2 22.8"/>
<path transform="translate(1413.7,205.4)" stroke="#D95319" stroke-width="6.7" fill="none" d="M-19,0L9.6,-16.6L9.6,16.6Z"/>
<text x="1501.5" y="217.8" font-size="52.5" fill="#000" text-anchor="start" textLength="52.5" lengthAdjust="spacingAndGlyphs" style="font-family:'Liberation Serif','DejaVu Serif',serif;font-style:italic">M</text>
<text x="1571.2" y="222.4" font-size="52.5" fill="#000" text-anchor="start" textLength="45.5" lengthAdjust="spacingAndGlyphs" style="font-family:'Liberation Serif','DejaVu Serif',serif">=</text>
<text x="1630.0" y="217.8" font-size="53" fill="#000" text-anchor="start" textLength="26.5" lengthAdjust="spacingAndGlyphs" style="font-family:'Liberation Serif','DejaVu Serif',serif">2</text>
<text x="1675.5" y="217.8" font-size="52.5" fill="#000" text-anchor="start" textLength="119.5" lengthAdjust="spacingAndGlyphs" style="font-family:'Liberation Serif','DejaVu Serif',serif">Theo</text>
<path d="M1338.6,271.8H1488.7" stroke="#EDB120" stroke-width="6.9" fill="none"/>
<circle transform="translate(1413.7,271.8)" stroke="#EDB120" stroke-width="6.7" fill="none" r="14.75"/>
<text x="1501.5" y="284.2" font-size="52.5" fill="#000" text-anchor="start" textLength="52.5" lengthAdjust="spacingAndGlyphs" style="font-family:'Liberation Serif','DejaVu Serif',serif;font-style:italic">M</text>
<text x="1571.2" y="288.8" font-size="52.5" fill="#000" text-anchor="start" textLength="45.5" lengthAdjust="spacingAndGlyphs" style="font-family:'Liberation Serif','DejaVu Serif',serif">=</text>
<text x="1630.0" y="284.2" font-size="53" fill="#000" text-anchor="start" textLength="26.5" lengthAdjust="spacingAndGlyphs" style="font-family:'Liberation Serif','DejaVu Serif',serif">4</text>
<text x="1673.5" y="284.2" font-size="52.5" fill="#000" text-anchor="start" textLength="90.0" lengthAdjust="spacingAndGlyphs" style="font-family:'Liberation Serif','DejaVu Serif',serif">Sim</text>
<path d="M1338.6,338.1H1488.7" stroke="#7E2F8E" stroke-width="6.9" fill="none" stroke-dasharray="37.2 22.8"/>
<path transform="translate(1413.7,338.1)" stroke="#7E2F8E" stroke-width="6.7" fill="none" d="M0.00,-14.40L3.23,-4.45L13.70,-4.45L5.23,1.70L8.46,11.65L0.00,5.50L-8.46,11.65L-5.23,1.70L-13.70,-4.45L-3.23,-4.45Z"/>
<text x="1501.5" y="350.5" font-size="52.5" fill="#000" text-anchor="start" textLength="52.5" lengthAdjust="spacingAndGlyphs" style="font-family:'Liberation Serif','DejaVu Serif',serif;font-style:italic">M</text>
<text x="1571.2" y="355.1" font-size="52.5" fill="#000" text-anchor="start" textLength="45.5" lengthAdjust="spacingAndGlyphs" style="font-family:'Liberation Serif','DejaVu Serif',serif">=</text>
<text x="1630.0" y="350.5" font-size="53" fill="#000" text-anchor="start" textLength="26.5" lengthAdjust="spacingAndGlyphs" style="font-family:'Liberation Serif','DejaVu Serif',serif">4</text>
<text x="1675.5" y="350.5" font-size="52.5" fill="#000" text-anchor="start" textLength="119.5" lengthAdjust="spacingAndGlyphs" style="font-family:'Liberation Serif','DejaVu Serif',serif">Theo</text>
<path d="M1338.6,404.5H1488.7" stroke="#77AC30" stroke-width="6.9" fill="none"/>
<path transform="translate(1413.7,404.5)" stroke="#77AC30" stroke-width="6.7" fill="none" d="M-10.6,-10.6L10.6,10.6M-10.6,10.6L10.6,-10.6"/>
<text x="1501.5" y="416.9" font-size="52.5" fill="#000" text-anchor="start" textLength="52.5" lengthAdjust="spacingAndGlyphs" style="font-family:'Liberation Serif','DejaVu Serif',serif;font-style:italic">M</text>
<text x="1571.2" y="421.5" font-size="52.5" fill="#000" text-anchor="start" textLength="45.5" lengthAdjust="spacingAndGlyphs" style="font-family:'Liberation Serif','DejaVu Serif',serif">=</text>
<text x="1630.0" y="416.9" font-size="53" fill="#000" text-anchor="start" textLength="26.5" lengthAdjust="spacingAndGlyphs" style="font-family:'Liberation Serif','DejaVu Serif',serif">6</text>
<text x="1673.5" y="416.9" font-size="52.5" fill="#000" text-anchor="start" textLength="90.0" lengthAdjust="spacingAndGlyphs" style="font-family:'Liberation Serif','DejaVu Serif',serif">Sim</text>
<path d="M1338.6,470.9H1488.7" stroke="#4DBEEE" stroke-width="6.9" fill="none" stroke-dasharray="37.2 22.8"/>
<path transform="translate(1413.7,470.9)" stroke="#4DBEEE" stroke-width="6.7" fill="none" d="M0,-19L16.6,9.6L-16.6,9.6Z"/>
<text x="1501.5" y="483.2" font-size="52.5" fill="#000" text-anchor="start" textLength="52.5" lengthAdjust="spacingAndGlyphs" style="font-family:'Liberation Serif','DejaVu Serif',serif;font-style:italic">M</text>
<text x="1571.2" y="487.9" font-size="52.5" fill="#000" text-anchor="start" textLength="45.5" lengthAdjust="spacingAndGlyphs" style="font-family:'Liberation Serif','DejaVu Serif',serif">=</text>
<text x="1630.0" y="483.2" font-size="53" fill="#000" text-anchor="start" textLength="26.5" lengthAdjust="spacingAndGlyphs" style="font-family:'Liberation Serif','DejaVu Serif',serif">6</text>
<text x="1675.5" y="483.2" font-size="52.5" fill="#000" text-anchor="start" textLength="119.5" lengthAdjust="spacingAndGlyphs" style="font-family:'Liberation Serif','DejaVu Serif',serif">Theo</text>
<path d="M1338.6,537.2H1488.7" stroke="#A2142F" stroke-width="6.9" fill="none"/>
<rect transform="translate(1413.7,537.2)" stroke="#A2142F" stroke-width="6.7" fill="none" x="-10.8" y="-10.8" width="21.6" height="21.6"/>
<text x="1501.5" y="549.6" font-size="52.5" fill="#000" text-anchor="start" textLength="52.5" lengthAdjust="spacingAndGlyphs" style="font-family:'Liberation Serif','DejaVu Serif',serif;font-style:italic">M</text>
<text x="1571.2" y="554.2" font-size="52.5" fill="#000" text-anchor="start" textLength="45.5" lengthAdjust="spacingAndGlyphs" style="font-family:'Liberation Serif','DejaVu Serif',serif">=</text>
<text x="1630.0" y="549.6" font-size="53" fill="#000" text-anchor="start" textLength="26.5" lengthAdjust="spacingAndGlyphs" style="font-family:'Liberation Serif','DejaVu Serif',serif">8</text>
<text x="1673.5" y="549.6" font-size="52.5" fill="#000" text-anchor="start" textLength="90.0" lengthAdjust="spacingAndGlyphs" style="font-family:'Liberation Serif','DejaVu Serif',serif">Sim</text>
<path d="M1338.6,603.5H1488.7" stroke="#0072BD" stroke-width="6.9" fill="none" stroke-dasharray="37.2 22.8"/>
<path transform="translate(1413.7,603.5)" stroke="#0072BD" stroke-width="6.7" fill="none" d="M19,0L-9.6,-16.6L-9.6,16.6Z"/>
<text x="1501.5" y="615.9" font-size="52.5" fill="#000" text-anchor="start" textLength="52.5" lengthAdjust="spacingAndGlyphs" style="font-family:'Liberation Serif','DejaVu Serif',serif;font-style:italic">M</text>
<text x="1571.2" y="620.5" font-size="52.5" fill="#000" text-anchor="start" textLength="45.5" lengthAdjust="spacingAndGlyphs" style="font-family:'Liberation Serif','DejaVu Serif',serif">=</text>
<text x="1630.0" y="615.9" font-size="53" fill="#000" text-anchor="start" textLength="26.5" lengthAdjust="spacingAndGlyphs" style="font-family:'Liberation Serif','DejaVu Serif',serif">8</text>
<text x="1675.5" y="615.9" font-size="52.5" fill="#000" text-anchor="start" textLength="119.5" lengthAdjust="spacingAndGlyphs" style="font-family:'Liberation Serif','DejaVu Serif',serif">Theo</text>
<path d="M1338.6,669.9H1488.7" stroke="#D95319" stroke-width="6.9" fill="none"/>
<path transform="translate(1413.7,669.9)" stroke="#D95319" stroke-width="6.7" fill="none" d="M0,-18.5L13.8,0L0,18.5L-13.8,0Z"/>
<text x="1501.5" y="682.3" font-size="52.5" fill="#000" text-anchor="start" textLength="52.5" lengthAdjust="spacingAndGlyphs" style="font-family:'Liberation Serif','DejaVu Serif',serif;font-style:italic">M</text>
<text x="1571.2" y="686.9" font-size="52.5" fill="#000" text-anchor="start" textLength="45.5" lengthAdjust="spacingAndGlyphs" style="font-family:'Liberation Serif','DejaVu Serif',serif">=</text>
<text x="1629.0" y="682.3" font-size="53" fill="#000" text-anchor="start" textLength="55.0" lengthAdjust="spacingAndGlyphs" style="font-family:'Liberation Serif','DejaVu Serif',serif">10</text>
<text x="1700.5" y="682.3" font-size="52.5" fill="#000" text-anchor="start" textLength="90.0" lengthAdjust="spacingAndGlyphs" style="font-family:'Liberation Serif','DejaVu Serif',serif">Sim</text>
<path d="M1338.6,736.2H1488.7" stroke="#EDB120" stroke-width="6.9" fill="none" stroke-dasharray="37.2 22.8"/>
<path transform="translate(1413.7,736.2)" stroke="#EDB120" stroke-width="7.3" fill="none" d="M0.00,-14.10L4.31,-7.05L12.94,-7.05L8.63,0.00L12.94,7.05L4.31,7.05L0.00,14.10L-4.31,7.05L-12.94,7.05L-8.63,0.00L-12.94,-7.05L-4.31,-7.05Z"/>
<text x="1501.5" y="748.6" font-size="52.5" fill="#000" text-anchor="start" textLength="52.5" lengthAdjust="spacingAndGlyphs" style="font-family:'Liberation Serif','DejaVu Serif',serif;font-style:italic">M</text>
<text x="1571.2" y="753.2" font-size="52.5" fill="#000" text-anchor="start" textLength="45.5" lengthAdjust="spacingAndGlyphs" style="font-family:'Liberation Serif','DejaVu Serif',serif">=</text>
<text x="1629.0" y="748.6" font-size="53" fill="#000" text-anchor="start" textLength="55.0" lengthAdjust="spacingAndGlyphs" style="font-family:'Liberation Serif','DejaVu Serif',serif">10</text>
<text x="1702.5" y="748.6" font-size="52.5" fill="#000" text-anchor="start" textLength="119.5" lengthAdjust="spacingAndGlyphs" style="font-family:'Liberation Serif','DejaVu Serif',serif">Theo</text>
<text x="344.5" y="1407.0" font-size="63.8" fill="#262626" text-anchor="start" textLength="78.0" lengthAdjust="spacingAndGlyphs" style="font-family:'Liberation Serif','DejaVu Serif',serif">0.5</text>
<text x="534.4" y="1407.0" font-size="63.8" fill="#262626" text-anchor="start" textLength="30.5" lengthAdjust="spacingAndGlyphs" style="font-family:'Liberation Serif','DejaVu Serif',serif">1</text>
<text x="676.7" y="1407.0" font-size="63.8" fill="#262626" text-anchor="start" textLength="78.0" lengthAdjust="spacingAndGlyphs" style="font-family:'Liberation Serif','DejaVu Serif',serif">1.5</text>
<text x="866.6" y="1407.0" font-size="63.8" fill="#262626" text-anchor="start" textLength="30.5" lengthAdjust="spacingAndGlyphs" style="font-family:'Liberation Serif','DejaVu Serif',serif">2</text>
<text x="1008.9" y="1407.0" font-size="63.8" fill="#262626" text-anchor="start" textLength="78.0" lengthAdjust="spacingAndGlyphs" style="font-family:'Liberation Serif','DejaVu Serif',serif">2.5</text>
<text x="1198.8" y="1407.0" font-size="63.8" fill="#262626" text-anchor="start" textLength="30.5" lengthAdjust="spacingAndGlyphs" style="font-family:'Liberation Serif','DejaVu Serif',serif">3</text>
<text x="1341.2" y="1407.0" font-size="63.8" fill="#262626" text-anchor="start" textLength="78.0" lengthAdjust="spacingAndGlyphs" style="font-family:'Liberation Serif','DejaVu Serif',serif">3.5</text>
<text x="1531.0" y="1407.0" font-size="63.8" fill="#262626" text-anchor="start" textLength="30.5" lengthAdjust="spacingAndGlyphs" style="font-family:'Liberation Serif','DejaVu Serif',serif">4</text>
<text x="1673.4" y="1407.0" font-size="63.8" fill="#262626" text-anchor="start" textLength="78.0" lengthAdjust="spacingAndGlyphs" style="font-family:'Liberation Serif','DejaVu Serif',serif">4.5</text>
<text x="1863.2" y="1407.0" font-size="63.8" fill="#262626" text-anchor="start" textLength="30.5" lengthAdjust="spacingAndGlyphs" style="font-family:'Liberation Serif','DejaVu Serif',serif">5</text>
<text x="204.5" y="50.8" font-size="42" fill="#262626" text-anchor="start" style="font-family:'Liberation Serif','DejaVu Serif',serif">0</text>
<text x="142.0" y="73.8" font-size="63.8" fill="#262626" text-anchor="start" textLength="61.5" lengthAdjust="spacingAndGlyphs" style="font-family:'Liberation Serif','DejaVu Serif',serif">10</text>
<text x="173.8" y="311.3" font-size="44" fill="#262626" text-anchor="start" textLength="29.2" lengthAdjust="spacingAndGlyphs" style="font-family:'Liberation Serif','DejaVu Serif',serif">−</text>
<text x="204.5" y="305.9" font-size="42" fill="#262626" text-anchor="start" style="font-family:'Liberation Serif','DejaVu Serif',serif">1</text>
<text x="111.0" y="328.9" font-size="63.8" fill="#262626" text-anchor="start" textLength="61.5" lengthAdjust="spacingAndGlyphs" style="font-family:'Liberation Serif','DejaVu Serif',serif">10</text>
<text x="173.8" y="566.4" font-size="44" fill="#262626" text-anchor="start" textLength="29.2" lengthAdjust="spacingAndGlyphs" style="font-family:'Liberation Serif','DejaVu Serif',serif">−</text>
<text x="204.5" y="561.0" font-size="42" fill="#262626" text-anchor="start" style="font-family:'Liberation Serif','DejaVu Serif',serif">2</text>
<text x="111.0" y="584.0" font-size="63.8" fill="#262626" text-anchor="start" textLength="61.5" lengthAdjust="spacingAndGlyphs" style="font-family:'Liberation Serif','DejaVu Serif',serif">10</text>
<text x="173.8" y="821.4" font-size="44" fill="#262626" text-anchor="start" textLength="29.2" lengthAdjust="spacingAndGlyphs" style="font-family:'Liberation Serif','DejaVu Serif',serif">−</text>
<text x="204.5" y="816.0" font-size="42" fill="#262626" text-anchor="start" style="font-family:'Liberation Serif','DejaVu Serif',serif">3</text>
<text x="111.0" y="839.0" font-size="63.8" fill="#262626" text-anchor="start" textLength="61.5" lengthAdjust="spacingAndGlyphs" style="font-family:'Liberation Serif','DejaVu Serif',serif">10</text>
<text x="173.8" y="1076.5" font-size="44" fill="#262626" text-anchor="start" textLength="29.2" lengthAdjust="spacingAndGlyphs" style="font-family:'Liberation Serif','DejaVu Serif',serif">−</text>
<text x="204.5" y="1071.1" font-size="42" fill="#262626" text-anchor="start" style="font-family:'Liberation Serif','DejaVu Serif',serif">4</text>
<text x="111.0" y="1094.1" font-size="63.8" fill="#262626" text-anchor="start" textLength="61.5" lengthAdjust="spacingAndGlyphs" style="font-family:'Liberation Serif','DejaVu Serif',serif">10</text>
<text x="952.0" y="1487.5" font-size="71" fill="#262626" text-anchor="start" textLength="47.0" lengthAdjust="spacingAndGlyphs" style="font-family:'Liberation Serif','DejaVu Serif',serif;font-style:italic">A</text>
<text transform="translate(1000,1503.5) skewX(-8) scale(0.92,1.46)" font-size="70" fill="#262626" style="font-family:'Liberation Serif','DejaVu Serif',serif">/</text>
<text x="1031.0" y="1487.5" font-size="64" fill="#262626" text-anchor="start" textLength="36.0" lengthAdjust="spacingAndGlyphs" style="font-family:'Liberation Serif','DejaVu Serif',serif;font-style:italic">σ</text>
<text x="1068.0" y="1498.0" font-size="48" fill="#262626" text-anchor="start" textLength="25.0" lengthAdjust="spacingAndGlyphs" style="font-family:'Liberation Serif','DejaVu Serif',serif;font-style:italic">x</text>
<text x="1117.5" y="1494" font-size="63.5" fill="#262626" style="font-family:'Noto Serif CJK SC','DejaVu Serif',serif">⇒</text>
<g transform="translate(72.5,1097) rotate(-90)">
<text x="0.0" y="0.0" font-size="67" fill="#262626" text-anchor="start" textLength="214.6" lengthAdjust="spacingAndGlyphs" style="font-family:'Liberation Serif','DejaVu Serif',serif">Symbol</text>
<text x="236.7" y="0.0" font-size="67" fill="#262626" text-anchor="start" textLength="137.0" lengthAdjust="spacingAndGlyphs" style="font-family:'Liberation Serif','DejaVu Serif',serif">error</text>
<text x="399.5" y="0.0" font-size="67" fill="#262626" text-anchor="start" textLength="313.6" lengthAdjust="spacingAndGlyphs" style="font-family:'Liberation Serif','DejaVu Serif',serif">probability</text>
<text x="736" y="7" font-size="63.5" fill="#262626" style="font-family:'Noto Serif CJK SC','DejaVu Serif',serif">⇒</text>
</g>
</svg>
</body></html>
